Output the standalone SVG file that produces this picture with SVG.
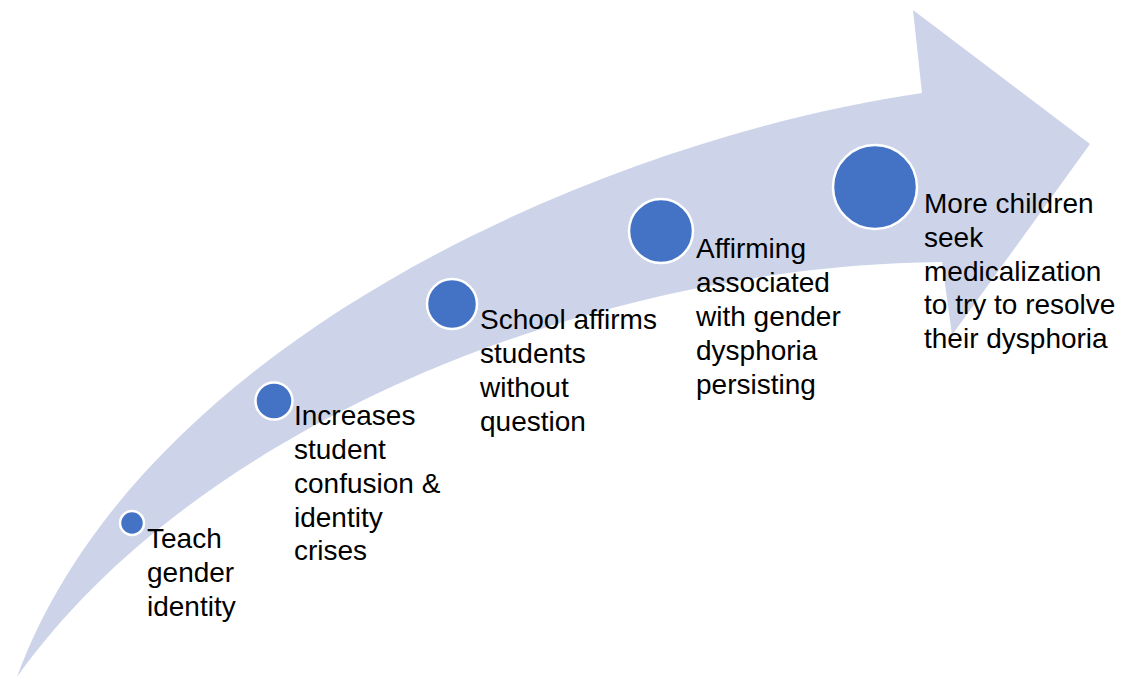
<svg xmlns="http://www.w3.org/2000/svg" width="1128" height="682" viewBox="0 0 1128 682">
<style>
.dot{fill:#4472C4;stroke:#FFFFFF;stroke-width:2.5}
.lbl{font-family:"Liberation Sans",Arial,sans-serif;font-size:28px;fill:#000000}
</style>
<rect width="1128" height="682" fill="#FFFFFF"/>
<g id="arrow">
<path d="M17,677 C140,342 600,140 922,93 L913,10 L1090,144 L952,335 L942,262 C600,265 200,420 17,677 Z" fill="#CDD4EA"/>
</g>
<g id="connectors"></g>
<g id="node1">
<circle class="dot" cx="132" cy="523" r="12"/>
<text class="lbl" x="147" y="548">Teach</text>
<text class="lbl" x="147" y="582">gender</text>
<text class="lbl" x="147" y="616">identity</text>
</g>
<g id="node2">
<circle class="dot" cx="274" cy="401" r="18.5"/>
<text class="lbl" x="294" y="425">Increases</text>
<text class="lbl" x="294" y="459">student</text>
<text class="lbl" x="294" y="493">confusion &amp;</text>
<text class="lbl" x="294" y="527">identity</text>
<text class="lbl" x="294" y="560">crises</text>
</g>
<g id="node3">
<circle class="dot" cx="452" cy="304" r="25"/>
<text class="lbl" x="480" y="329">School affirms</text>
<text class="lbl" x="480" y="363">students</text>
<text class="lbl" x="480" y="397">without</text>
<text class="lbl" x="480" y="431">question</text>
</g>
<g id="node4">
<circle class="dot" cx="661" cy="231" r="32"/>
<text class="lbl" x="696" y="258">Affirming</text>
<text class="lbl" x="696" y="292">associated</text>
<text class="lbl" x="696" y="326">with gender</text>
<text class="lbl" x="696" y="360">dysphoria</text>
<text class="lbl" x="696" y="394">persisting</text>
</g>
<g id="node5">
<circle class="dot" cx="875" cy="187" r="42"/>
<text class="lbl" x="924" y="213">More children</text>
<text class="lbl" x="924" y="247">seek</text>
<text class="lbl" x="924" y="281">medicalization</text>
<text class="lbl" x="924" y="314">to try to resolve</text>
<text class="lbl" x="924" y="348">their dysphoria</text>
</g>
</svg>
